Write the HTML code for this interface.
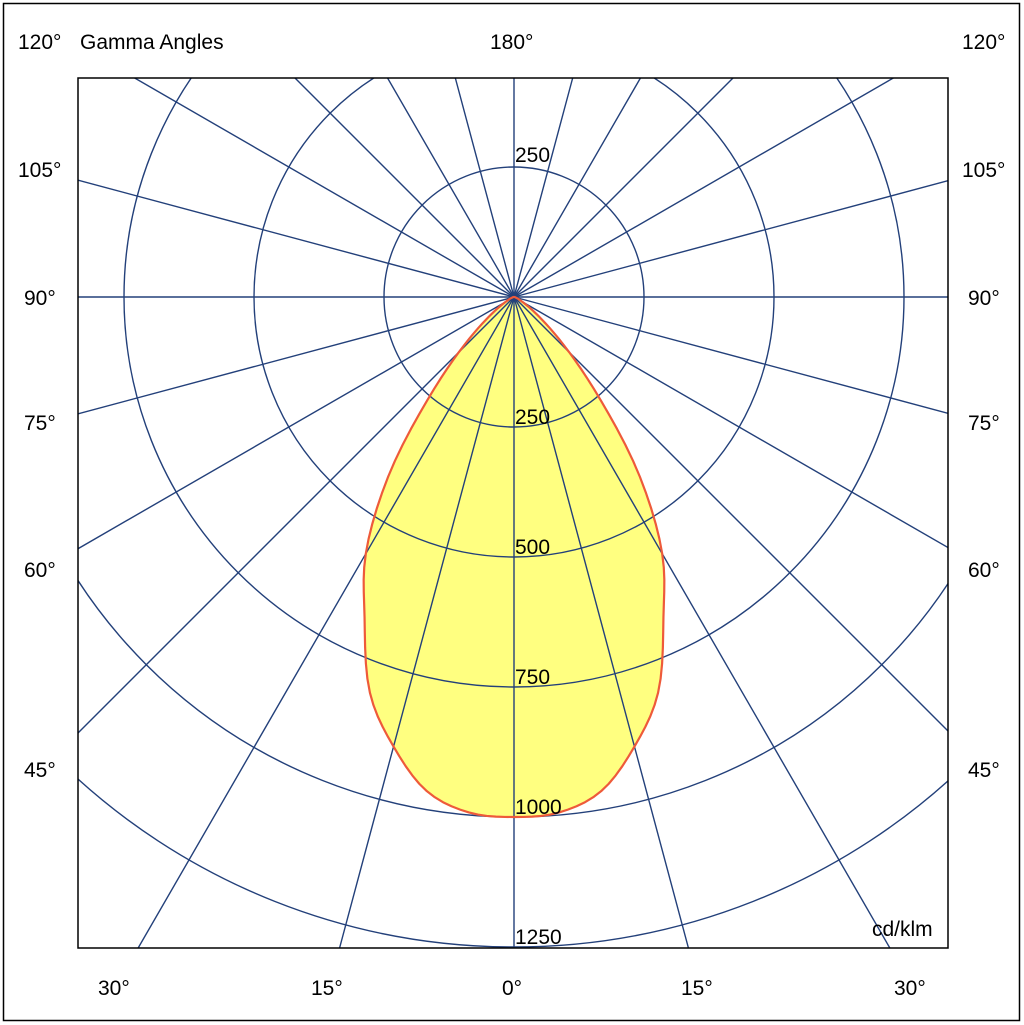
<!DOCTYPE html>
<html><head><meta charset="utf-8"><style>
html,body{margin:0;padding:0;background:#fff;overflow:hidden;width:1024px;height:1025px;}
svg{display:block;overflow:hidden;}
svg text{font-family:"Liberation Sans",sans-serif;font-size:21px;fill:#000;}
</style></head><body>
<svg width="1024" height="1025">
<rect x="3.5" y="3.5" width="1016" height="1017" fill="none" stroke="#000" stroke-width="1.5"/>
<defs><clipPath id="pc"><rect x="78" y="78" width="870" height="870"/></clipPath></defs>
<g id="curve" clip-path="url(#pc)"></g>
<g id="grid" clip-path="url(#pc)"></g>
<g id="rlabels"></g>
<rect x="78" y="78" width="870" height="870" fill="none" stroke="#000" stroke-width="1.5"/>
<text x="18" y="49">120°</text>
<text x="80" y="49">Gamma Angles</text>
<text x="490" y="49">180°</text>
<text x="962" y="49">120°</text>
<text x="18" y="177">105°</text>
<text x="962" y="177">105°</text>
<text x="24" y="305">90°</text>
<text x="968" y="305">90°</text>
<text x="24" y="430">75°</text>
<text x="968" y="430">75°</text>
<text x="24" y="577">60°</text>
<text x="968" y="577">60°</text>
<text x="24" y="777">45°</text>
<text x="968" y="777">45°</text>
<text x="98" y="995">30°</text>
<text x="311" y="995">15°</text>
<text x="502" y="995">0°</text>
<text x="681" y="995">15°</text>
<text x="894" y="995">30°</text>
<text x="872" y="936">cd/klm</text>
</svg>
<script>
const ringValues=[250,500,750,1000,1250];
const spokeAngles=[0,15,30,45,60,75,90,105,120,135,150,165,180,195,210,225,240,255,270,285,300,315,330,345];
const gammaAngles=[0,5,10,15,20,25,30,35,40,45,50,55,60,70,80,90];
const intensity=[1000,995,965,895,810,680,570,422,260,150,80,40,18,5,2,0];
const cx=514,cy=297,scale=0.52;
const X0=78,X1=948,Y0=78,Y1=948;
const NS='http://www.w3.org/2000/svg';
function rr(v){return v*scale;}
function px(g,v){return cx+rr(v)*Math.sin(g*Math.PI/180);}
function py(g,v){return cy+rr(v)*Math.cos(g*Math.PI/180);}
const grid=document.getElementById('grid');
ringValues.forEach(v=>{const c=document.createElementNS(NS,'circle');
c.setAttribute('cx',cx);c.setAttribute('cy',cy);c.setAttribute('r',rr(v));
c.setAttribute('fill','none');c.setAttribute('stroke','#23407a');c.setAttribute('stroke-width','1.4');


grid.appendChild(c);});
spokeAngles.forEach(a=>{const l=document.createElementNS(NS,'line');
const dx=Math.sin(a*Math.PI/180),dy=Math.cos(a*Math.PI/180);
let t=1e9;
if(dx>1e-9)t=Math.min(t,(X1-cx)/dx);if(dx<-1e-9)t=Math.min(t,(X0-cx)/dx);
if(dy>1e-9)t=Math.min(t,(Y1-cy)/dy);if(dy<-1e-9)t=Math.min(t,(Y0-cy)/dy);
l.setAttribute('x1',cx);l.setAttribute('y1',cy);
l.setAttribute('x2',cx+t*dx);l.setAttribute('y2',cy+t*dy);
l.setAttribute('stroke','#23407a');l.setAttribute('stroke-width','1.4');


grid.appendChild(l);});
function interp(g){
  let i=0;while(i<gammaAngles.length-2&&g>gammaAngles[i+1])i++;
  const a0=gammaAngles[i],a1=gammaAngles[i+1];const t=(g-a0)/(a1-a0);
  const v1=intensity[i],v2=intensity[i+1];
  const v0=i>0?intensity[i-1]:intensity[1];
  const v3=i+2<intensity.length?intensity[i+2]:v2;
  const t2=t*t,t3=t2*t;
  return Math.max(0,0.5*((2*v1)+(-v0+v2)*t+(2*v0-5*v1+4*v2-v3)*t2+(-v0+3*v1-3*v2+v3)*t3));
}
let pts=[];
for(let g=-90;g<=90;g+=1){const v=interp(Math.abs(g));pts.push(px(g,v).toFixed(2)+','+py(g,v).toFixed(2));}
const d='M'+pts.join(' L')+'Z';
const fill=document.createElementNS(NS,'path');
fill.setAttribute('d',d);fill.setAttribute('fill','#ffff80');fill.setAttribute('stroke','none');


document.getElementById('curve').appendChild(fill);
const line=document.createElementNS(NS,'path');
line.setAttribute('d',d);line.setAttribute('fill','none');line.setAttribute('stroke','#ee5a3a');line.setAttribute('stroke-width','2.2');line.setAttribute('stroke-linejoin','round');


grid.parentNode.insertBefore(line,document.getElementById('rlabels'));
const rl=document.getElementById('rlabels');
function lab(x,y,t,n){const e=document.createElementNS(NS,'text');e.setAttribute('x',x);e.setAttribute('y',y);e.textContent=t;


rl.appendChild(e);}
lab(515,cy-rr(250)-5,'250','ring-label-250-top');
ringValues.forEach(v=>lab(515,cy+rr(v)-3,String(v),'ring-label-'+v));
</script>
</body></html>
